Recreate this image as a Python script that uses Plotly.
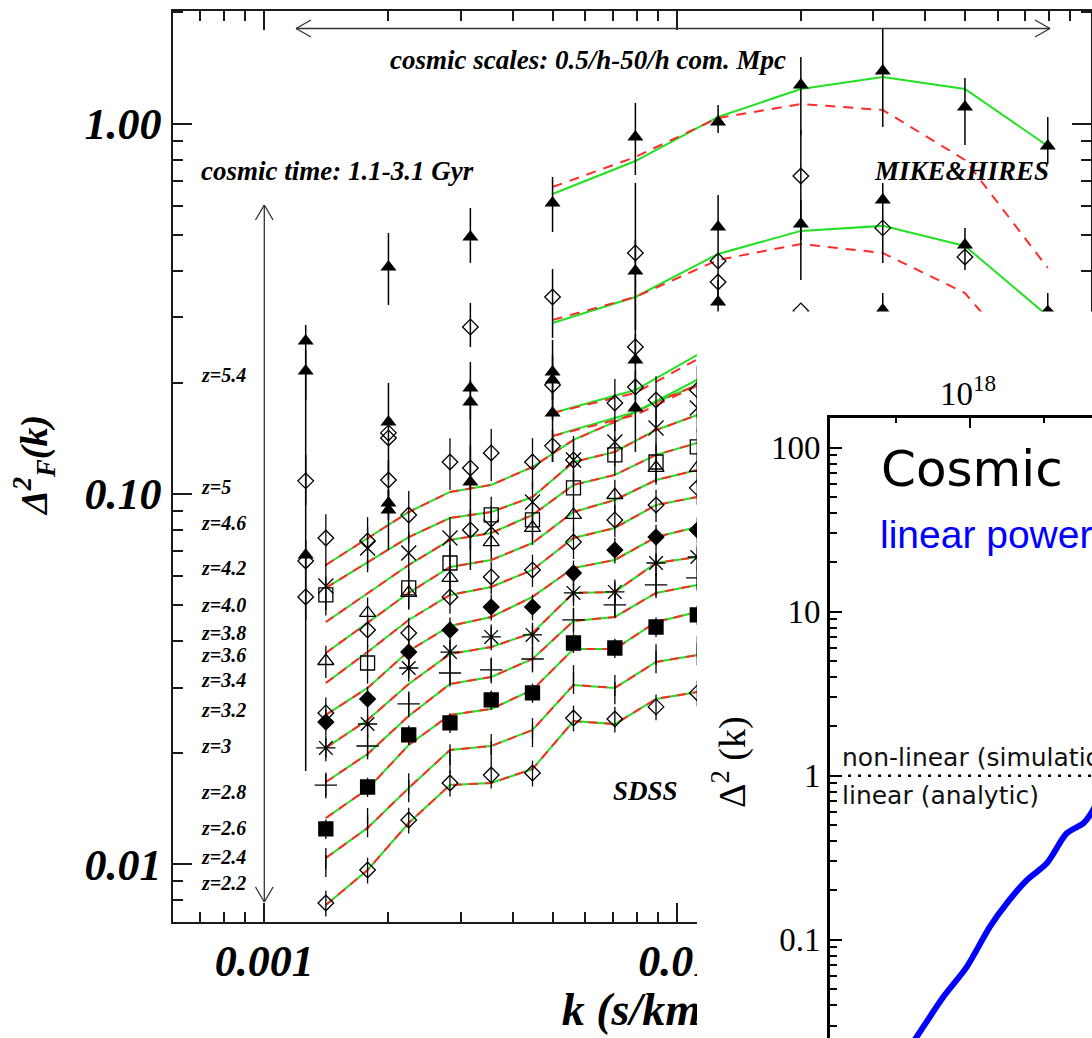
import plotly.graph_objects as go

W, H = 1092, 1038
SERIF = "Liberation Serif"
SANS = "DejaVu Sans"
ARIAL = "Liberation Sans"
GREEN = "#22e022"
RED = "#ff2a2a"
INK = "#1a1a1a"


def fx(px):
    """horizontal pixel -> paper fraction"""
    return px / W


def fy(py):
    """vertical pixel (from top) -> paper fraction"""
    return 1 - py / H


# ---------------- SDSS flux power spectrum ----------------
sdss_k = [0.00141, 0.00178, 0.00224, 0.00282, 0.00355, 0.00447, 0.00562, 0.00708, 0.00891, 0.01122]

fit_z22 = [0.00776, 0.00965, 0.01293, 0.01637, 0.01658, 0.01808, 0.02436, 0.02391, 0.02796, 0.02920]
fit_z24 = [0.01040, 0.01254, 0.01607, 0.02036, 0.02087, 0.02305, 0.03050, 0.02994, 0.03518, 0.03674]
fit_z26 = [0.01334, 0.01597, 0.02100, 0.02532, 0.02628, 0.02957, 0.03814, 0.03814, 0.04512, 0.04801]
fit_z28 = [0.01668, 0.01985, 0.02516, 0.03069, 0.03206, 0.03584, 0.04540, 0.04655, 0.05406, 0.05681]
fit_z30 = [0.02062, 0.02453, 0.03069, 0.03697, 0.03862, 0.04214, 0.05406, 0.05439, 0.06512, 0.06759]
fit_z32 = [0.02532, 0.02994, 0.03767, 0.04402, 0.04655, 0.05273, 0.06312, 0.06634, 0.07652, 0.08147]
fit_z34 = [0.03088, 0.03743, 0.04569, 0.05339, 0.05611, 0.06236, 0.07605, 0.08097, 0.09339, 0.09815]
fit_z36 = [0.03720, 0.04484, 0.05406, 0.06352, 0.06634, 0.07372, 0.08942, 0.09634, 0.1091, 0.1161]
fit_z38 = [0.04512, 0.05406, 0.06431, 0.07511, 0.07845, 0.08777, 0.1058, 0.1126, 0.1275, 0.1374]
fit_z40 = [0.05576, 0.06552, 0.07652, 0.08615, 0.08942, 0.09815, 0.1220, 0.1299, 0.1489, 0.1634]
fit_z42 = [0.06431, 0.07605, 0.08942, 0.1013, 0.1058, 0.1183, 0.1400, 0.1565, 0.1772, 0.1969]

obs_z22 = [0.00786, 0.00965, 0.01317, 0.01658, 0.01742, 0.01764, 0.02484, 0.02468, 0.02661, 0.02902]
obs_z24 = [0.01015, 0.01301, 0.01617, 0.01936, 0.02062, 0.02277, 0.03166, 0.02975, 0.03606, 0.03790]
obs_z26 = [0.01246, 0.01617, 0.02235, 0.02408, 0.02779, 0.02902, 0.03959, 0.03838, 0.04374, 0.04713]
obs_z28 = [0.01637, 0.02087, 0.02711, 0.03286, 0.03348, 0.03584, 0.04569, 0.05018, 0.05681, 0.05933]
obs_z30 = [0.02062, 0.02393, 0.03389, 0.03743, 0.04111, 0.04163, 0.05406, 0.05439, 0.06512, 0.06759]
obs_z32 = [0.02423, 0.02794, 0.03743, 0.04294, 0.04953, 0.04953, 0.06121, 0.07058, 0.07652, 0.07997]
obs_z34 = [0.02563, 0.04294, 0.04214, 0.05273, 0.05970, 0.06236, 0.07418, 0.08509, 0.09339, 0.1039]
obs_z36 = [0.03540, 0.04772, 0.05406, 0.05933, 0.07418, 0.08097, 0.08777, 0.09938, 0.1176, 0.1176]
obs_z38 = [0.05339, 0.03496, 0.05576, 0.06512, 0.08777, 0.08509, 0.1039, 0.1275, 0.1220, 0.1340]
obs_z40 = [0.05646, 0.07146, 0.06928, 0.07605, 0.08147, 0.09515, 0.1236, 0.1382, 0.1508, 0.1707]
obs_z42 = [0.07605, 0.07464, 0.08777, 0.1220, 0.1291, 0.1220, 0.1236, 0.1761, 0.1794, 0.1909]

# (observed, fit, marker symbol, marker size, error bar in %)
sdss_sets = [
    (obs_z22, fit_z22, "diamond-open", 12, 8),
    (obs_z24, fit_z24, "line-ns-open", 10, 9),
    (obs_z26, fit_z26, "square", 14, 6),
    (obs_z28, fit_z28, "cross-thin-open", 16, 8),
    (obs_z30, fit_z30, "asterisk-open", 16, 8),
    (obs_z32, fit_z32, "diamond", 12, 8),
    (obs_z34, fit_z34, "diamond-open", 12, 10),
    (obs_z36, fit_z36, "triangle-up-open", 14, 10),
    (obs_z38, fit_z38, "square-open", 14, 12),
    (obs_z40, fit_z40, "x-thin-open", 15, 14),
    (obs_z42, fit_z42, "diamond-open", 12, 16),
]

# ---------------- MIKE & HIRES ----------------
mh_fit_k = [0.005, 0.00794, 0.0126, 0.02, 0.0316, 0.05, 0.0794]
best_z54 = [0.6459, 0.7928, 1.0425, 1.241, 1.337, 1.241, 0.8706]
wdm_z54 = [0.6746, 0.8128, 1.036, 1.130, 1.089, 0.7982, 0.4078]
best_z50 = [0.2897, 0.3404, 0.4449, 0.5134, 0.5297, 0.4675, 0.3026]
wdm_z50 = [0.2951, 0.3404, 0.4286, 0.4733, 0.4476, 0.3490, 0.1909]
best_z46 = [0.1655, 0.1909, 0.2557]
wdm_z46 = [0.1655, 0.1874, 0.2479]
best_z42 = [0.1435, 0.1665, 0.2176]
wdm_z42 = [0.1435, 0.1634, 0.2084]

# MIKE (filled triangles)
mike_k = [0.00126, 0.00126, 0.00126, 0.002, 0.002, 0.002, 0.002,
          0.00316, 0.00316, 0.00316, 0.00316, 0.005, 0.005, 0.005, 0.005,
          0.00794, 0.00794, 0.00794, 0.00794, 0.0126, 0.0126, 0.0126,
          0.02, 0.02, 0.0316, 0.0316, 0.0316, 0.05, 0.05, 0.0794, 0.0794]
mike_p = [0.2591, 0.2149, 0.06843, 0.4104, 0.1565, 0.09456, 0.09053,
          0.4944, 0.1933, 0.1772, 0.1078, 0.6109, 0.2136, 0.2031, 0.1655,
          0.9206, 0.4003, 0.2301, 0.1707, 1.011, 0.5264, 0.3300,
          1.272, 0.5362, 1.388, 0.6224, 0.3141, 1.109, 0.4704, 0.8706, 0.3102]
mike_hi = [0.2861, 0.2449, 0.07511, 0.5071, 0.1995, 0.1026, 0.1026,
           0.5922, 0.2273, 0.2031, 0.1400, 0.7177, 0.2607, 0.2374, 0.1909,
           1.137, 0.4853, 0.2689, 0.2031, 1.123, 0.6416, 0.3783,
           1.514, 0.6224, 1.813, 0.6915, 0.3490, 1.329, 0.5231, 1.0425, 0.3490]
mike_lo = [0.1794, 0.01786, 0.06045, 0.3239, 0.1091, 0.08509, 0.07058,
           0.4207, 0.1585, 0.1400, 0.06236, 0.5100, 0.1794, 0.1585, 0.1220,
           0.7268, 0.2774, 0.1909, 0.1299, 0.9438, 0.3342, 0.2774,
           0.9322, 0.3783, 0.9797, 0.4207, 0.2774, 0.8760, 0.4028, 0.7800, 0.2774]

# HIRES (open diamonds)
hires_k = [0.00126, 0.00126, 0.00126, 0.002, 0.002, 0.002, 0.00316, 0.00316, 0.00316,
           0.005, 0.005, 0.005, 0.00794, 0.00794, 0.00794, 0.0126, 0.0126,
           0.02, 0.02, 0.0316, 0.05, 0.0794]
hires_p = [0.1085, 0.06593, 0.05273, 0.1462, 0.1417, 0.1091, 0.2826, 0.1176, 0.07997,
           0.3404, 0.1969, 0.1349, 0.4476, 0.2495, 0.1945, 0.4259, 0.3736,
           0.7222, 0.3121, 0.5231, 0.4366, 0.3063]
hires_hi = [0.1275, 0.06593, 0.06045, 0.1462, 0.1417, 0.1236, 0.3280, 0.1357, 0.09053,
            0.4051, 0.1969, 0.1489, 0.6915, 0.2774, 0.2163, 0.4259, 0.3736,
            0.9616, 0.3121, 0.5231, 0.4366, 0.3063]
hires_lo = [0.09339, 0.06593, 0.04569, 0.1462, 0.1417, 0.09634, 0.2495, 0.1026, 0.07058,
            0.2640, 0.1969, 0.1220, 0.2774, 0.2231, 0.1794, 0.4259, 0.3736,
            0.4853, 0.3121, 0.5231, 0.4366, 0.3063]

z_labels = ["z=5.4", "z=5", "z=4.6", "z=4.2", "z=4.0", "z=3.8", "z=3.6", "z=3.4",
            "z=3.2", "z=3", "z=2.8", "z=2.6", "z=2.4", "z=2.2"]

# ---------------- inset: matter power spectrum ----------------
lin_x = [3.46e17, 4.37e17, 6.61e17, 9.51e17, 1.36e18, 1.77e18, 2.42e18, 3.30e18,
         4.50e18, 5.83e18, 6.67e18, 7.55e18]
lin_delta2 = [0.01875, 0.02564, 0.04487, 0.06839, 0.1199, 0.1667, 0.2312, 0.2924,
              0.4457, 0.5129, 0.6026, 0.7621]
nonlinear_level = 1.0
level_x = [1.5e17, 1.0e19]

fig = go.Figure()

# model curves (green best fit under red dashed alternative)
for obs, fit, sym, size, err in sdss_sets:
    fig.add_trace(go.Scatter(x=sdss_k, y=fit, mode="lines",
                             line=dict(color=GREEN, width=2)))
    fig.add_trace(go.Scatter(x=sdss_k, y=fit, mode="lines",
                             line=dict(color=RED, width=2, dash="9px,7px")))

for best, wdm in [(best_z54, wdm_z54), (best_z50, wdm_z50), (best_z46, wdm_z46), (best_z42, wdm_z42)]:
    kk = mh_fit_k[:len(best)]
    fig.add_trace(go.Scatter(x=kk, y=best, mode="lines", line=dict(color=GREEN, width=2)))
    fig.add_trace(go.Scatter(x=kk, y=wdm, mode="lines",
                             line=dict(color=RED, width=2, dash="10px,8px")))

# SDSS data points
for obs, fit, sym, size, err in sdss_sets:
    fig.add_trace(go.Scatter(
        x=sdss_k, y=obs, mode="markers",
        marker=dict(symbol=sym, size=size, color="black",
                    line=dict(color="black", width=1.3)),
        error_y=dict(type="percent", value=err, color="black", thickness=1.3, width=0),
    ))

# MIKE / HIRES data points
fig.add_trace(go.Scatter(
    x=mike_k, y=mike_p, mode="markers",
    marker=dict(symbol="triangle-up", size=14, color="black"),
    error_y=dict(type="data", symmetric=False,
                 array=[h - p for h, p in zip(mike_hi, mike_p)],
                 arrayminus=[p - l for p, l in zip(mike_p, mike_lo)],
                 color="black", thickness=1.5, width=0),
))
fig.add_trace(go.Scatter(
    x=hires_k, y=hires_p, mode="markers",
    marker=dict(symbol="diamond-open", size=12, color="black",
                line=dict(color="black", width=1.3)),
    error_y=dict(type="data", symmetric=False,
                 array=[h - p for h, p in zip(hires_hi, hires_p)],
                 arrayminus=[p - l for p, l in zip(hires_p, hires_lo)],
                 color="black", thickness=1.5, width=0),
))

# companion x axis that carries the "k (s/km)" caption inside the plot layer
fig.add_trace(go.Scatter(x=[None], y=[None], xaxis="x4", yaxis="y"))

# blank panel behind the inset
fig.add_trace(go.Scatter(x=[None], y=[None], xaxis="x2", yaxis="y2"))

# inset curves
fig.add_trace(go.Scatter(x=level_x, y=[nonlinear_level] * len(level_x), mode="lines",
                         xaxis="x3", yaxis="y3",
                         line=dict(color="black", width=2.5, dash="3px,7px")))
fig.add_trace(go.Scatter(x=lin_x, y=lin_delta2, mode="lines", xaxis="x3", yaxis="y3",
                         line=dict(color="#0000ff", width=6, shape="spline", smoothing=0.8)))

for tr in fig.data:
    tr.showlegend = False
    tr.hoverinfo = "skip"

tick_font = dict(family=SERIF, size=44, color="black", weight="bold", style="italic")
minor_main_x = [m * 10.0 ** e for e in (-4, -3, -2) for m in range(2, 10)]
minor_main_y = [m * 10.0 ** e for e in (-3, -2, -1, 0) for m in range(2, 10)]
minor_inset_y = [m * 10.0 ** e for e in (-2, -1, 0, 1, 2) for m in range(2, 10)]

main_x_range = [-3.2214, -0.9961]

axis_common = dict(type="log", showline=True, linecolor=INK, linewidth=1.5, mirror="ticks",
                   ticks="inside", ticklen=19, tickwidth=1.5, tickcolor=INK,
                   showgrid=False, zeroline=False, tickfont=tick_font)

fig.update_layout(
    width=W, height=H, margin=dict(l=0, r=0, t=0, b=0),
    paper_bgcolor="white", plot_bgcolor="white", showlegend=False,
    xaxis=dict(axis_common, domain=[fx(173), fx(1090.7)], range=main_x_range,
               anchor="y", tickmode="array", tickvals=[0.001, 0.01], ticktext=["0.001", "0.01"],
               ticklabelstandoff=0,
               minor=dict(tickmode="array", tickvals=minor_main_x, ticks="inside", ticklen=10,
                          tickwidth=1.5, tickcolor=INK, showgrid=False)),
    xaxis4=dict(overlaying="x", anchor="y", side="bottom", type="log", range=main_x_range,
                tickmode="array", tickvals=[0.0081], ticktext=["k (s/km)"],
                ticks="", showline=False, showgrid=False, zeroline=False,
                ticklabelstandoff=56,
                tickfont=dict(family=SERIF, size=46, color="black", weight="bold", style="italic")),
    yaxis=dict(axis_common, domain=[fy(921.7), fy(11)], range=[-2.155, 0.3043],
               anchor="x", tickmode="array", tickvals=[0.01, 0.1, 1.0],
               ticktext=["0.01", "0.10", "1.00"], ticklabelstandoff=1,
               minor=dict(tickmode="array", tickvals=minor_main_y, ticks="inside", ticklen=10,
                          tickwidth=1.5, tickcolor=INK, showgrid=False)),
    xaxis2=dict(domain=[fx(697), 1.0], range=[0, 1], visible=False, anchor="y2"),
    yaxis2=dict(domain=[0.0, fy(311.5)], range=[0, 1], visible=False, anchor="x2"),
    xaxis3=dict(domain=[fx(830), 1.0], type="log", range=[17.054, 18.824], side="top",
                anchor="y3", showline=True, linecolor="black", linewidth=3,
                ticks="inside", ticklen=10, tickwidth=2, tickcolor="black",
                tickmode="array", tickvals=[1e18], ticktext=[""],
                showgrid=False, zeroline=False,
                minor=dict(tickmode="array", tickvals=[10 ** 17.5, 10 ** 18.5], ticks="inside",
                           ticklen=5, tickwidth=2, tickcolor="black", showgrid=False)),
    yaxis3=dict(domain=[0.0, fy(418)], type="log", range=[-1.599, 2.181], anchor="x3",
                showline=True, linecolor="black", linewidth=3,
                ticks="inside", ticklen=12, tickwidth=2, tickcolor="black",
                tickmode="array", tickvals=[0.1, 1, 10, 100], ticktext=["0.1", "1", "10", "100"],
                tickfont=dict(family=SERIF, size=33, color="black"),
                showgrid=False, zeroline=False,
                minor=dict(tickmode="array", tickvals=minor_inset_y, ticks="inside",
                           ticklen=7, tickwidth=2, tickcolor="black", showgrid=False)),
)

ann = []


def label(text, x, y, size, xanchor="left", family=SERIF, color="black",
          bold=True, italic=True, angle=0):
    ann.append(dict(
        text=text, x=fx(x), y=fy(y), xref="paper", yref="paper",
        xanchor=xanchor, yanchor="middle", showarrow=False, textangle=angle,
        font=dict(family=family, size=size, color=color,
                  weight="bold" if bold else "normal",
                  style="italic" if italic else "normal"),
    ))


label("cosmic scales: 0.5/h-50/h com. Mpc", 588, 60, 27, xanchor="center")
label("cosmic time: 1.1-3.1 Gyr", 199, 171, 27)
label("MIKE&amp;HIRES", 872, 171, 27)
label("SDSS", 611, 791, 27)
label("Δ<sup>2</sup><sub>F</sub>(k)", 34, 466, 38, xanchor="center", angle=-90)

z_label_y = [375, 487, 523, 568, 605, 633, 655, 680, 710, 746, 792, 828, 857, 883]
for txt, yy in zip(z_labels, z_label_y):
    label(txt, 199, yy, 20)

# inset texts
label("10<sup>18</sup>", 968, 391, 33, xanchor="center", bold=False, italic=False)
label("Cosmic", 879, 469, 50, family=SANS, bold=False, italic=False)
label("linear power spectrum", 878, 534, 39, family=ARIAL, color="#0000ff", bold=False, italic=False)
label("non-linear (simulations)", 840, 757, 25, family=SANS, color="#111111", bold=False, italic=False)
label("linear (analytic)", 840, 795, 25, family=SANS, color="#111111", bold=False, italic=False)
label("Δ<sup>2</sup> (k)", 729, 762, 38, xanchor="center", family=SERIF, bold=False,
      italic=False, angle=-90)

fig.update_layout(annotations=ann)


# double-headed arrows with open heads
def seg(x0, y0, x1, y1):
    return dict(type="line", xref="paper", yref="paper", x0=fx(x0), y0=fy(y0),
                x1=fx(x1), y1=fy(y1), line=dict(color="#333333", width=1.3), layer="above")


shapes = [
    seg(296, 28.5, 1050, 28.5),
    seg(296, 28.5, 311, 20), seg(296, 28.5, 311, 37),
    seg(1050, 28.5, 1035, 20), seg(1050, 28.5, 1035, 37),
    seg(264.3, 205, 264.3, 902),
    seg(264.3, 205, 255.5, 220), seg(264.3, 205, 273.1, 220),
    seg(264.3, 902, 255.5, 887), seg(264.3, 902, 273.1, 887),
]
fig.update_layout(shapes=shapes)

fig.write_html("out.html")
